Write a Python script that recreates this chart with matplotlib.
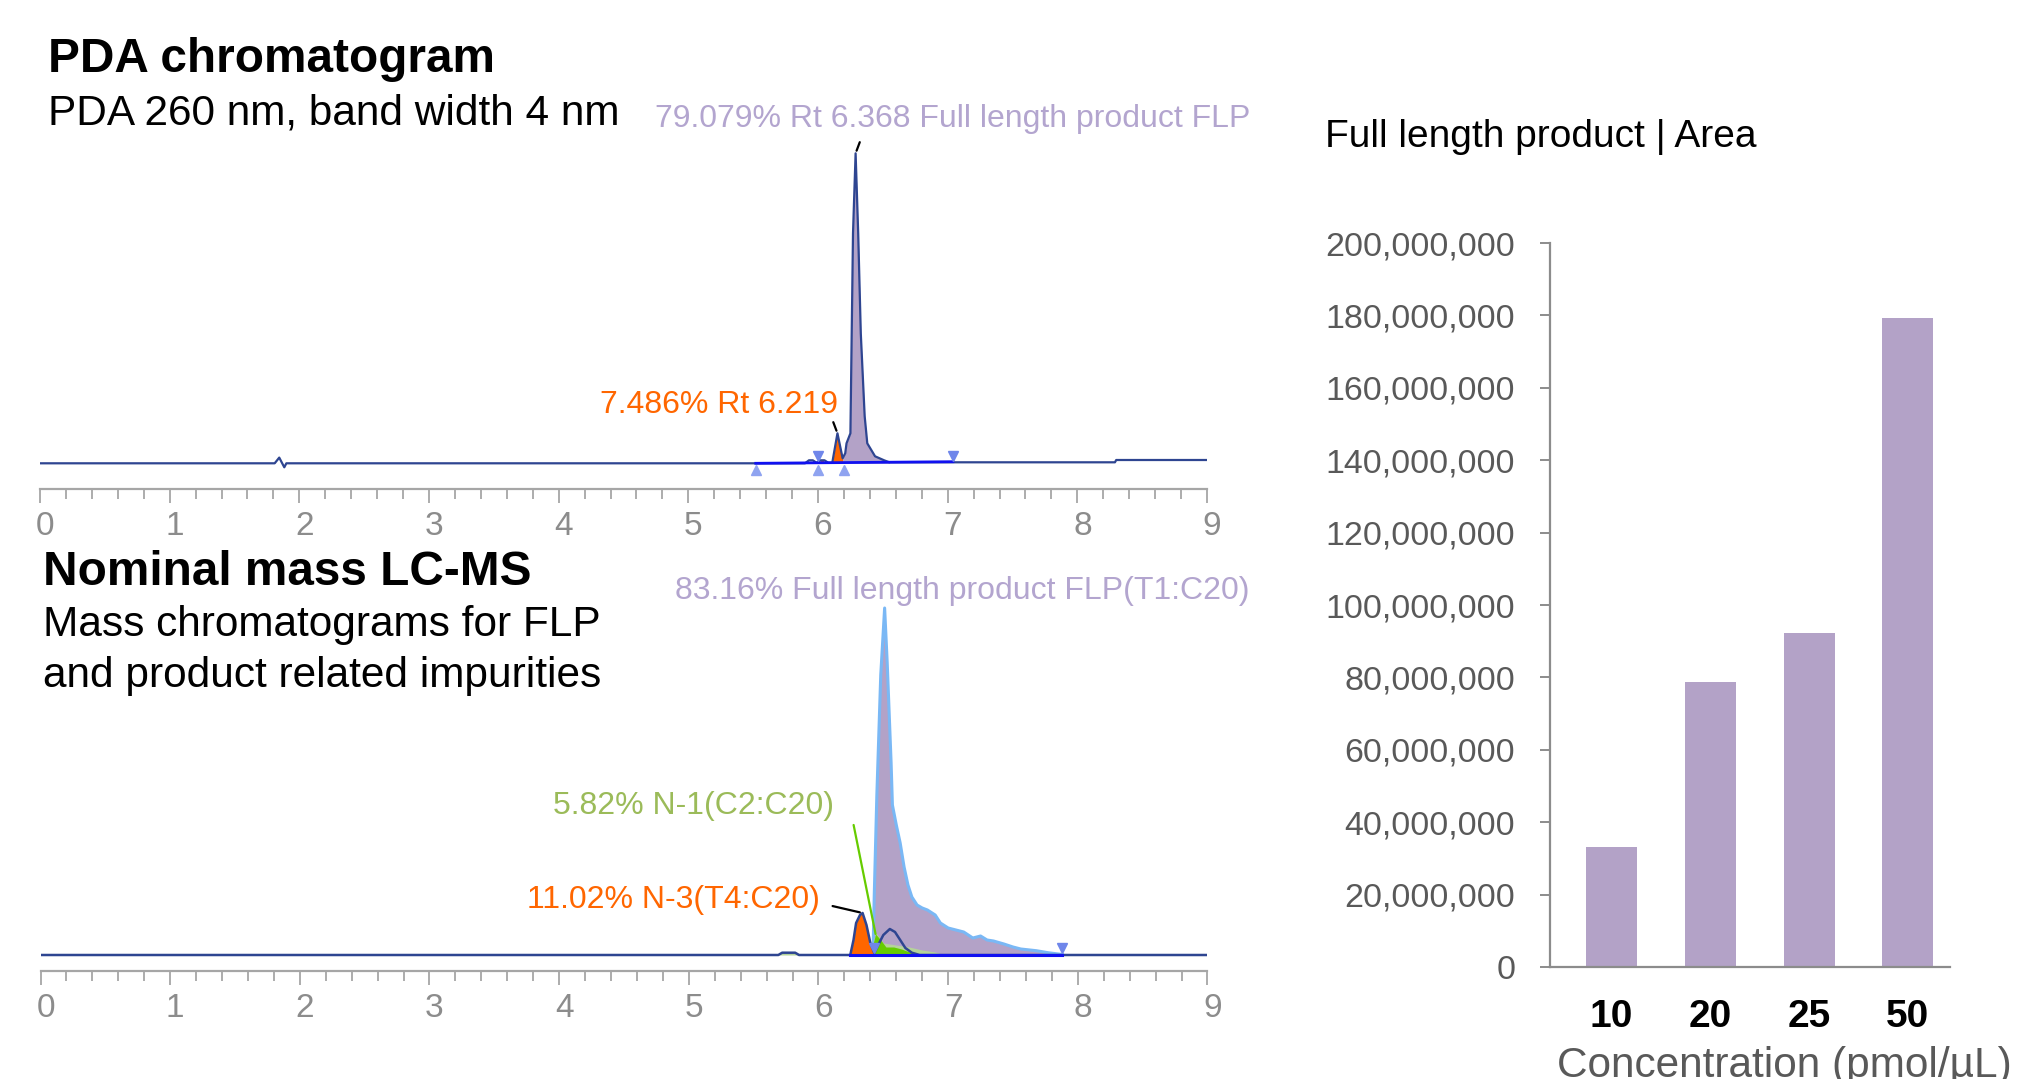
import matplotlib
matplotlib.use('Agg')
import matplotlib.pyplot as plt
import matplotlib.transforms as mtransforms
from matplotlib.ticker import MultipleLocator, FuncFormatter
import numpy as np

plt.rcParams['font.family'] = ['Liberation Sans', 'DejaVu Sans']

# PDA 260 nm trace: retention time (min) and signal (arbitrary units)
pda_time = np.array([0.00, 1.81, 1.845, 1.884, 1.90, 5.90, 5.93, 5.96, 5.99, 6.02, 6.05, 6.08,
                     6.11, 6.15, 6.19, 6.21, 6.22, 6.25, 6.26, 6.27, 6.29, 6.31, 6.33, 6.36,
                     6.38, 6.44, 6.51, 6.55, 8.29, 8.30, 9.00])
pda_signal = np.array([0, 0, 5.7, -4, 0, 0, 3, 3, 0.5, 3, 3, 0.5,
                       0.5, 30, 5, 10, 20, 30, 130, 230, 310, 230, 130, 47,
                       20, 7, 3, 1, 1, 3.3, 3.3])
pda_n_range = (6.11, 6.19)      # 7.486 % impurity
pda_small_range = (6.02, 6.07)
pda_flp_range = (6.19, 6.55)    # full length product
pda_integ_time = [5.52, 7.04]
pda_integ_signal = [0, 1.6]
pda_start_marks = [5.52, 6.00, 6.20]
pda_end_marks = [6.00, 7.04]

# LC-MS mass chromatograms
ms_time = np.array([0.00, 5.69, 5.72, 5.82, 5.85, 6.245, 6.27, 6.29, 6.32, 6.34, 6.37, 6.40,
                    6.43, 6.46, 6.50, 6.55, 6.59, 6.63, 6.67, 6.72, 6.78, 9.00])
ms_signal = np.array([0, 0, 2.3, 2.3, 0, 0, 15, 32, 40, 42, 30, 12,
                      2, 10, 20, 26, 23, 15, 7, 2.3, 0, 0])
n3_range = (6.245, 6.43)
flp_time = np.array([6.42, 6.43, 6.45, 6.48, 6.51, 6.53, 6.56, 6.57, 6.60, 6.63, 6.66, 6.69,
                     6.72, 6.76, 6.80, 6.84, 6.90, 6.94, 7.00, 7.06, 7.12, 7.19, 7.25, 7.30,
                     7.35, 7.43, 7.50, 7.56, 7.68, 7.77, 7.88])
flp_signal = np.array([0, 60, 160, 280, 347, 292, 192, 150, 130, 112, 88, 70,
                       58, 50, 47, 45, 40, 32, 27, 25, 23, 17, 19, 15,
                       14, 11, 8, 6, 4.3, 2.3, 0.5])
n1_time = np.array([6.40, 6.44, 6.48, 6.52, 6.58, 6.64, 6.70, 6.74])
n1_signal = np.array([0, 21, 15, 8, 8, 6, 3, 0])
n1_halo_time = np.array([6.40, 6.44, 6.50, 6.60, 6.70, 6.80, 6.90, 6.97])
n1_halo_signal = np.array([0, 23, 12, 10, 8, 5, 3, 0])
ms_integ_time = [6.245, 7.88]
ms_end_marks = [6.43, 7.88]

# Bar chart
concentrations = ['10', '20', '25', '50']
flp_area = [33200000, 78600000, 92300000, 179300000]

navy = '#2e4591'
purple = '#b3a2c7'
label_purple = '#b3a5cf'
orange = '#ff6600'
integ_blue = '#1010f0'
mark_blue = '#6f86ea'
W, H = 2027, 1079

fig = plt.figure(figsize=(W / 100, H / 100), dpi=100)
label_shift = mtransforms.ScaledTranslation(0.05, 0, fig.dpi_scale_trans)


def chrom_axis(ax, ylim):
    ax.set_xlim(0, 9)
    ax.set_ylim(*ylim)
    for s in ['left', 'right', 'top']:
        ax.spines[s].set_visible(False)
    ax.spines['bottom'].set_color('#a6a6a6')
    ax.spines['bottom'].set_linewidth(1.6)
    ax.set_yticks([])
    ax.xaxis.set_major_locator(MultipleLocator(1))
    ax.xaxis.set_minor_locator(MultipleLocator(0.2))
    ax.tick_params(axis='x', which='major', length=10, width=1.3, color='#a6a6a6',
                   labelsize=24, labelcolor='#8c8c8c', pad=6)
    ax.tick_params(axis='x', which='minor', length=7, width=1.3, color='#a6a6a6')
    for lab in ax.get_xticklabels():
        lab.set_transform(lab.get_transform() + label_shift)
    ax.set_facecolor('none')


# ---- PDA chromatogram ----
ax1 = fig.add_axes([40 / W, 1 - 489 / H, 1167 / W, 389 / H])
chrom_axis(ax1, (-25.7, 363.3))
m = (pda_time >= pda_flp_range[0]) & (pda_time <= pda_flp_range[1])
ax1.fill_between(pda_time[m], 0, pda_signal[m], color=purple, lw=0, zorder=1)
m = (pda_time >= pda_n_range[0]) & (pda_time <= pda_n_range[1])
ax1.fill_between(pda_time[m], 0, pda_signal[m], color=orange, lw=0, zorder=1)
m = (pda_time >= pda_small_range[0]) & (pda_time <= pda_small_range[1])
ax1.fill_between(pda_time[m], 0, pda_signal[m], color=orange, lw=0, zorder=1)
ax1.plot(pda_time, pda_signal, color=navy, lw=1.6, zorder=3)
ax1.plot(pda_integ_time, pda_integ_signal, color=integ_blue, lw=2, zorder=4)
ax1.plot(pda_start_marks, [-7] * len(pda_start_marks), '^', color='#8fa3f0', ms=7, zorder=5)
ax1.plot(pda_end_marks, [7] * len(pda_end_marks), 'v', color=mark_blue, ms=7, zorder=5)

i_flp = np.argmax(pda_signal)
ax1.annotate('', xy=(pda_time[i_flp], pda_signal[i_flp]), xytext=(3, 8),
             textcoords='offset points',
             arrowprops=dict(arrowstyle='-', color='black', lw=1.6, shrinkA=0, shrinkB=2))
i_imp = np.argmax(np.where(pda_time < 6.2, pda_signal, -99))
ax1.annotate('', xy=(pda_time[i_imp], pda_signal[i_imp]), xytext=(-3, 8),
             textcoords='offset points',
             arrowprops=dict(arrowstyle='-', color='black', lw=1.6, shrinkA=0, shrinkB=2))
ax1.text(4.742, 335.9, '79.079% Rt 6.368 Full length product FLP', color=label_purple,
         fontsize=23, ha='left', va='baseline', clip_on=False)
ax1.text(6.153, 49.9, '7.486% Rt 6.219', color=orange, fontsize=23, ha='right',
         va='baseline', clip_on=False)

# ---- LC-MS chromatogram ----
ax2 = fig.add_axes([40.5 / W, 1 - 971 / H, 1167 / W, 411 / H])
chrom_axis(ax2, (-16, 395))
ax2.fill_between(flp_time, 0, flp_signal, color=purple, lw=0, zorder=1)
ax2.plot(flp_time, flp_signal, color='#7ab8f5', lw=2.2, zorder=2)
ax2.fill_between(n1_halo_time, 0, n1_halo_signal, color='#b5d39a', lw=0, zorder=3)
ax2.fill_between(n1_time, 0, n1_signal, color='#66cc00', lw=0, zorder=3)
m = (ms_time >= n3_range[0]) & (ms_time <= n3_range[1])
ax2.fill_between(ms_time[m], 0, ms_signal[m], color=orange, lw=0, zorder=3)
m = (ms_time >= 5.69) & (ms_time <= 5.85)
ax2.fill_between(ms_time[m], 0, ms_signal[m], color='#b5d39a', lw=0, zorder=3)
ax2.plot(ms_time, ms_signal, color=navy, lw=1.8, zorder=4)
ax2.plot(ms_integ_time, [0, 0], color=integ_blue, lw=2.2, zorder=5)
ax2.plot(ms_end_marks, [7, 7], 'v', color=mark_blue, ms=7, zorder=6)

i_n3 = np.argmax(np.where(ms_time < 6.43, ms_signal, -99))
ax2.annotate('', xy=(ms_time[i_n3], ms_signal[i_n3]), xytext=(-21.6, 5),
             textcoords='offset points',
             arrowprops=dict(arrowstyle='-', color='black', lw=1.6, shrinkA=0, shrinkB=2))
i_n1 = np.argmax(n1_signal)
ax2.annotate('', xy=(n1_time[i_n1], n1_signal[i_n1]), xytext=(-15.8, 78.5),
             textcoords='offset points',
             arrowprops=dict(arrowstyle='-', color='#66cc00', lw=1.6, shrinkA=0, shrinkB=0))
ax2.text(4.892, 355.6, '83.16% Full length product FLP(T1:C20)', color=label_purple,
         fontsize=23, ha='left', va='baseline', clip_on=False)
ax2.text(6.118, 140.6, '5.82% N-1(C2:C20)', color='#9bbb59', fontsize=23, ha='right',
         va='baseline', clip_on=False)
ax2.text(6.010, 46.6, '11.02% N-3(T4:C20)', color=orange, fontsize=23, ha='right',
         va='baseline', clip_on=False)

# ---- headings ----
fig.text(48 / W, 1 - 72 / H, 'PDA chromatogram', fontsize=34.4, fontweight='bold', va='baseline')
fig.text(48 / W, 1 - 125 / H, 'PDA 260 nm, band width 4 nm', fontsize=30.5, va='baseline')
fig.text(43 / W, 1 - 585 / H, 'Nominal mass LC-MS', fontsize=34.4, fontweight='bold', va='baseline')
fig.text(43 / W, 1 - 636 / H, 'Mass chromatograms for FLP', fontsize=30.5, va='baseline')
fig.text(43 / W, 1 - 687 / H, 'and product related impurities', fontsize=30.5, va='baseline')

# ---- bar chart ----
ax3 = fig.add_axes([1550 / W, 1 - 967 / H, 400 / W, 724 / H])
x = np.arange(len(concentrations))
ax3.bar(x, flp_area, width=0.516, color=purple)
ax3.set_xlim(-0.623, 3.427)
ax3.set_ylim(0, 200000000)
ax3.yaxis.set_major_locator(MultipleLocator(20000000))
ax3.yaxis.set_major_formatter(FuncFormatter(lambda v, p: f'{v:,.0f}'))
ax3.set_xticks(x)
ax3.set_xticklabels(concentrations, fontsize=28, fontweight='bold')
for s in ['right', 'top']:
    ax3.spines[s].set_visible(False)
for s in ['left', 'bottom']:
    ax3.spines[s].set_color('#8c8c8c')
    ax3.spines[s].set_linewidth(1.6)
ax3.tick_params(axis='y', length=7, width=1.4, color='#8c8c8c', labelsize=24.5,
                labelcolor='#595959', pad=18)
ax3.tick_params(axis='x', length=0, pad=23)
fig.text(1325 / W, 1 - 147 / H, 'Full length product | Area', fontsize=28, va='baseline')
fig.text(1784 / W, 1 - 1077 / H, 'Concentration (pmol/\u00b5L)', fontsize=30.5,
         color='#595959', ha='center', va='baseline')

fig.savefig('out.png', dpi=100)
